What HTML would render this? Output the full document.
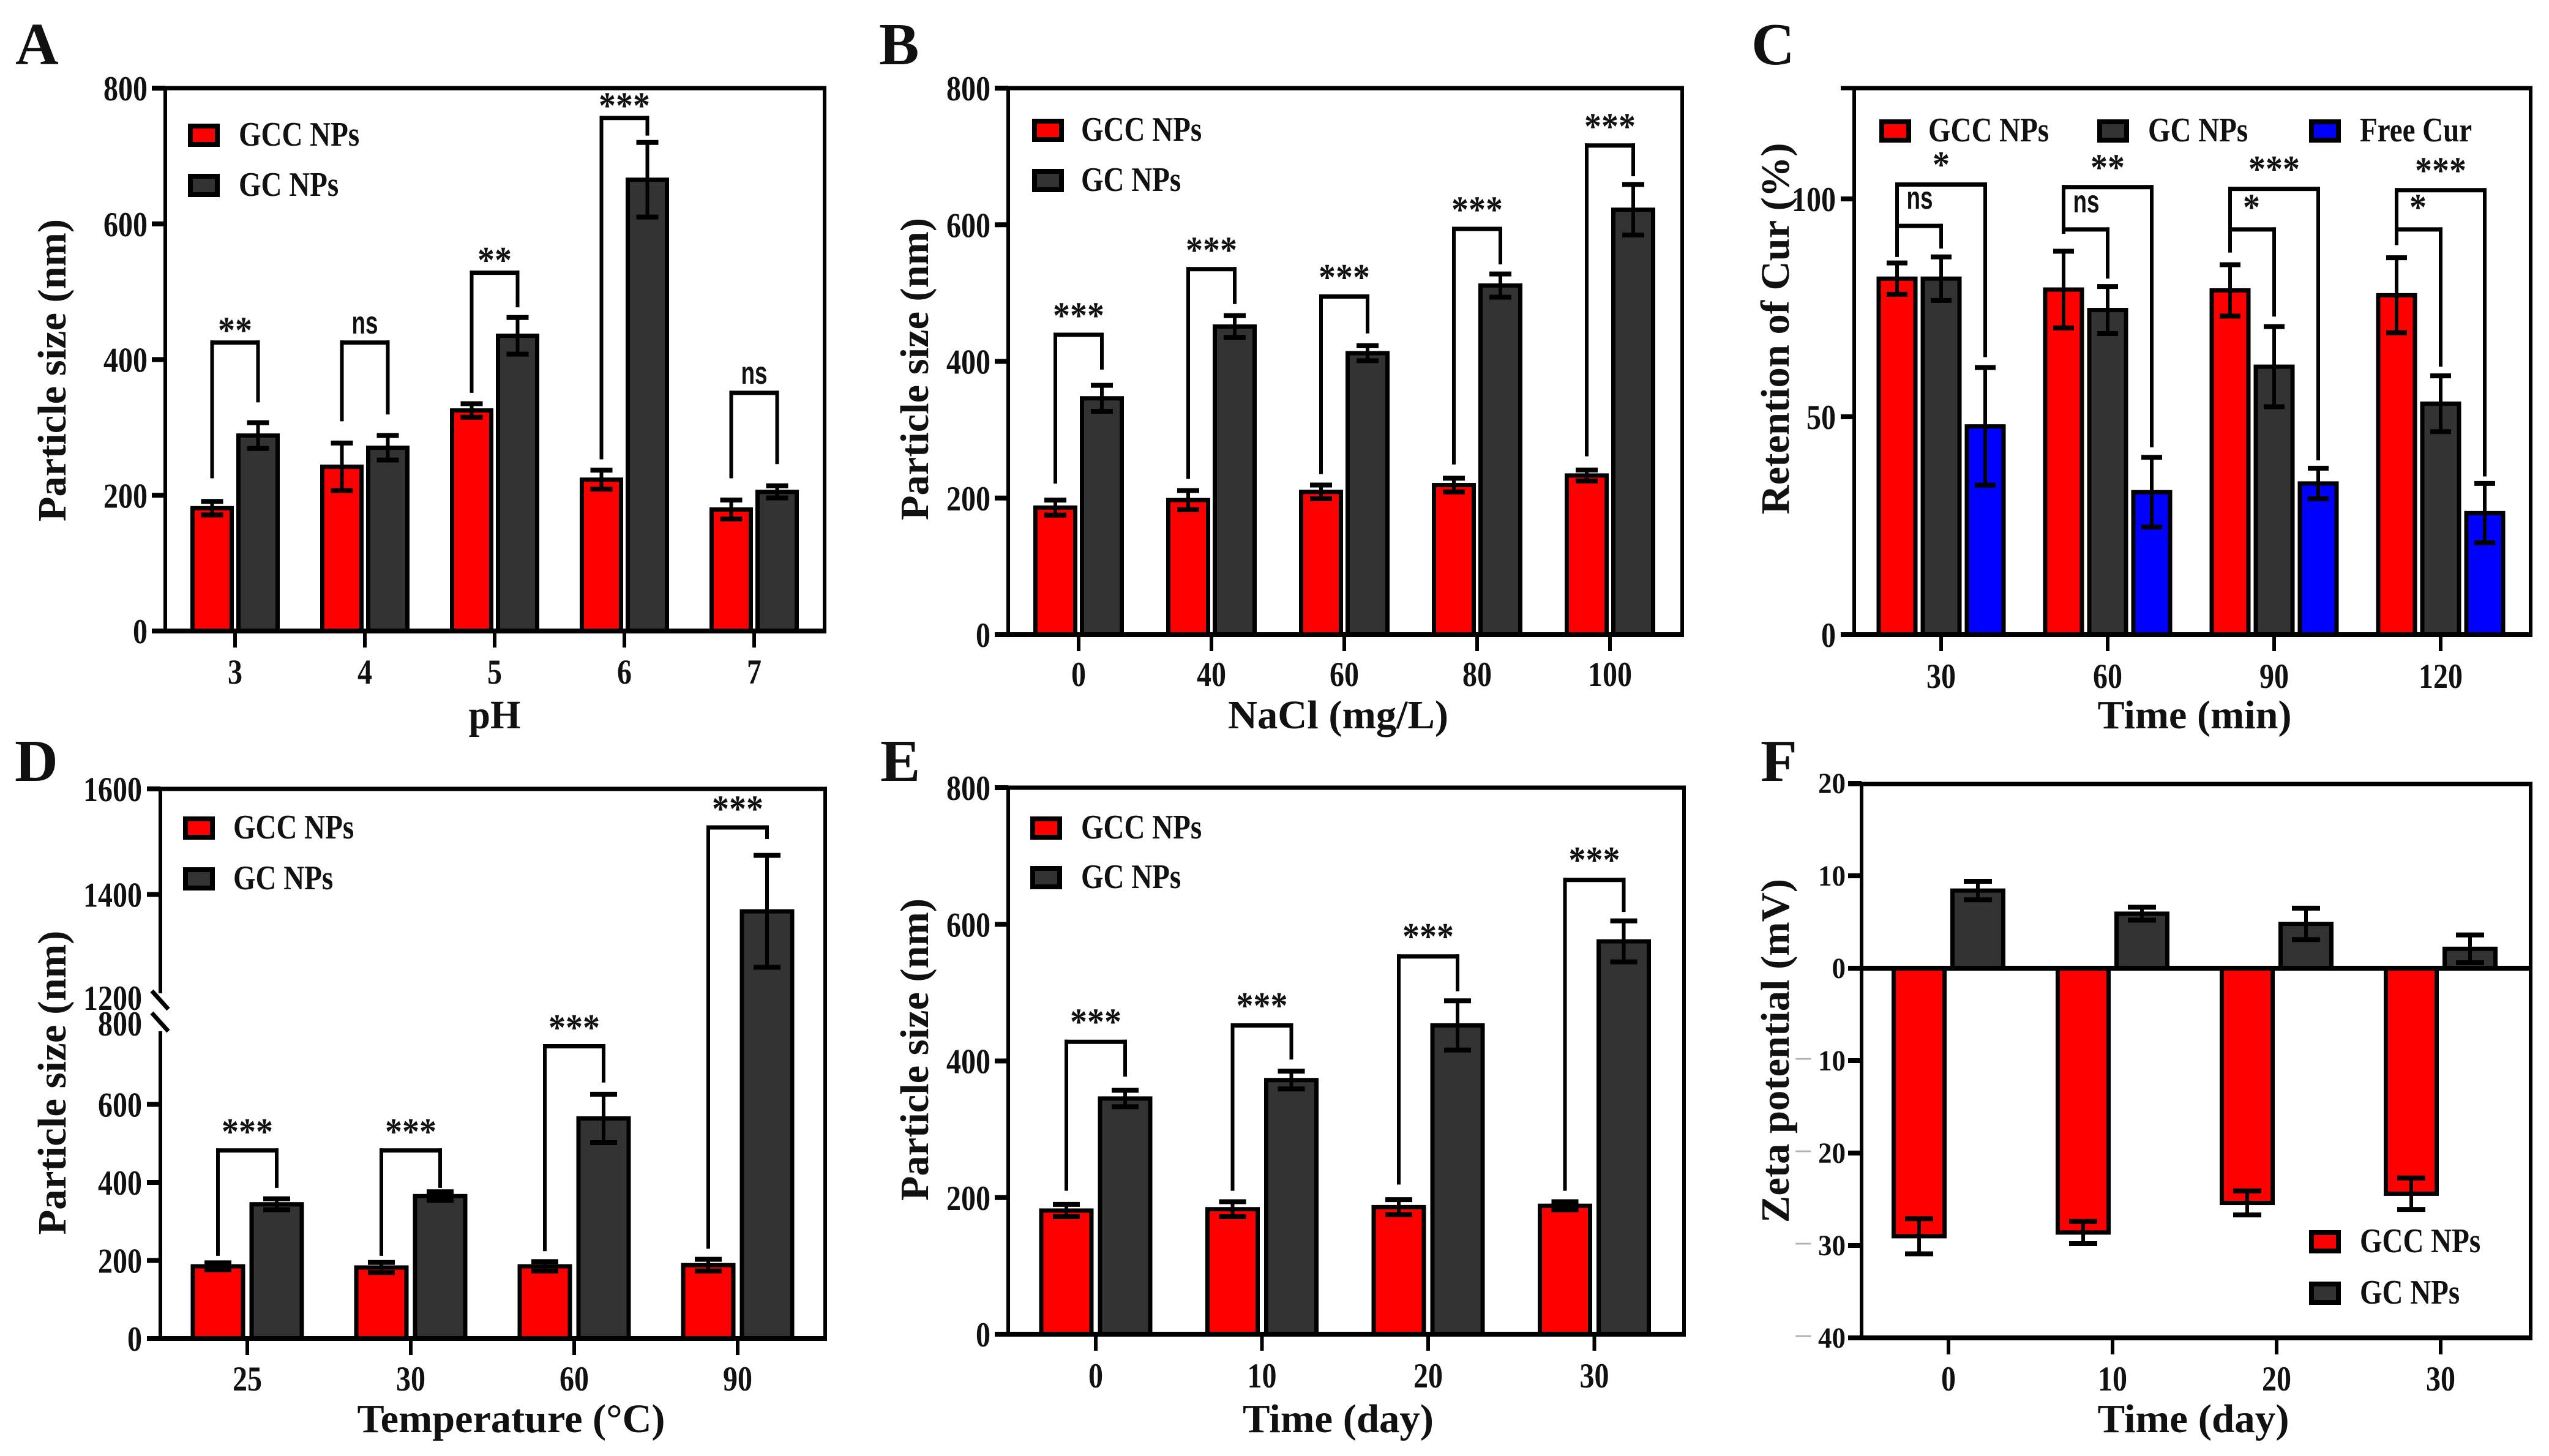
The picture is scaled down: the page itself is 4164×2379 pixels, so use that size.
<!DOCTYPE html>
<html lang="en">
<head>
<meta charset="utf-8">
<title>Nanoparticle stability charts</title>
<style>
html,body{margin:0;padding:0;background:#fff;}
svg{display:block;width:4164px;height:2379px;}
text{font-family:"Liberation Serif",serif;font-weight:bold;fill:#111;}
</style>
</head>
<body>
<svg id="figure" xmlns="http://www.w3.org/2000/svg" width="4164" height="2379" viewBox="0 0 4164 2379"></svg>
<script>
/* ---------- Panel A ---------- */
const categoriesA = ['3','4','5','6','7'];
const yTicksA = [0,200,400,600,800];
const gccA = [181,242,325,223,179];
const gccErrA = [10,35,10,14,14];
const gcA = [288,270,435,665,205];
const gcErrA = [19,18,27,55,9];
const sigTopA = [425,425,528,756,351];
const sigLeftA = [225,309,351,253,225];
const sigRightA = [337,319,477,730,246];
const sigLabelA = ['**','ns','**','***','ns'];

/* ---------- Panel B ---------- */
const categoriesB = ['0','40','60','80','100'];
const yTicksB = [0,200,400,600,800];
const gccB = [186,197,209,219,233];
const gccErrB = [11,14,10,10,8];
const gcB = [346,451,412,511,622];
const gcErrB = [19,16,11,17,37];
const sigTopB = [439,535,495,594,716];
const sigLeftB = [221,228,235,249,261];
const sigRightB = [388,484,441,542,671];
const sigLabelB = ['***','***','***','***','***'];

/* ---------- Panel C ---------- */
const categoriesC = ['30','60','90','120'];
const yTicksC = [0,50,100];
const gccC = [81.7,79.2,79,77.9];
const gccErrC = [3.6,8.8,5.9,8.6];
const gcC = [81.7,74.5,61.5,53];
const gcErrC = [5,5.4,9.2,6.4];
const freeC = [47.8,32.7,34.7,27.9];
const freeErrC = [13.5,8,3.5,6.8];
const sigTopC = [103.3,102.7,102.3,102];
const sigLeftC = [86.7,92,87.7,89.4];
const sigRightC = [63.7,43,40,36.3];
const sigLabelC = ['*','**','***','***'];
const innerTopC = [93.8,93,93,93];
const innerRightC = [88.6,81.7,73,61.5];
const innerLabelC = ['ns','ns','*','*'];

/* ---------- Panel D ---------- */
const categoriesD = ['25','30','60','90'];
const yTicksD = [0,200,400,600,800,1200,1400,1600];
const gccD = [185,182,185,188];
const gccErrD = [9,13,12,15];
const gcD = [344,365,564,1368];
const gcErrD = [14,11,62,106];
const sigTopD = [482,482,749,1527];
const sigLeftD = [212,212,224,230];
const sigRightD = [386,386,656,1505];
const sigLabelD = ['***','***','***','***'];

/* ---------- Panel E ---------- */
const categoriesE = ['0','10','20','30'];
const yTicksE = [0,200,400,600,800];
const gccE = [181,183,186,188];
const gccErrE = [9,11,11,6];
const gcE = [345,372,452,575];
const gcErrE = [12,13,36,30];
const sigTopE = [428,452,553,665];
const sigLeftE = [210,210,219,210];
const sigRightE = [377,402,502,618];
const sigLabelE = ['***','***','***','***'];

/* ---------- Panel F ---------- */
const categoriesF = ['0','10','20','30'];
const yTicksF = [-40,-30,-20,-10,0,10,20];
const gccF = [-29,-28.6,-25.4,-24.4];
const gccErrF = [1.9,1.2,1.3,1.7];
const gcF = [8.4,5.9,4.8,2.1];
const gcErrF = [1,0.7,1.7,1.5];

const RED = '#fe0000', DARK = '#333333', BLUE = '#0000fe';
const svg = document.getElementById('figure');
const NS = 'http://www.w3.org/2000/svg';

function make(parent, tag, attrs, name, interactable) {
  const el = document.createElementNS(NS, tag);
  for (const k in attrs) el.setAttribute(k, attrs[k]);
  
  
  parent.appendChild(el);
  return el;
}
function line(p, x1, y1, x2, y2, w, name) {
  return make(p, 'line', {x1, y1, x2, y2, stroke: '#000', 'stroke-width': w}, name);
}
function text(p, str, x, y, size, anchor, name, extra) {
  const el = make(p, 'text', Object.assign({x, y, 'font-size': size, 'text-anchor': anchor}, extra || {}), name);
  el.textContent = str;
  return el;
}
/* text stretched vertically about its baseline */
function tallText(p, str, x, y, size, anchor, sy, name) {
  const el = make(p, 'text', {x: 0, y: 0, 'font-size': size, 'text-anchor': anchor,
    transform: 'translate(' + x + ' ' + y + ') scale(1 ' + sy + ')'}, name);
  el.textContent = str;
  return el;
}
function nsLabel(p, x, y, name) {
  const el = text(p, 'ns', x, y, 52, 'middle', name, {textLength: 43, lengthAdjust: 'spacingAndGlyphs'});
  el.style.fontFamily = '"Liberation Sans",sans-serif';
  return el;
}
function bracket(p, xl, xr, top, yl, yr, name) {
  const g = make(p, 'g', {}, name);
  line(g, xl, top - 3.5, xl, yl, 6, name + '-left-arm');
  line(g, xr, top - 3.5, xr, yr, 6, name + '-right-arm');
  line(g, xl - 3, top, xr + 3, top, 7, name + '-top');
  return g;
}

function drawPanel(c) {
  const g = make(svg, 'g', {}, 'panel-' + c.letter.toLowerCase());
  const y = c.y;
  const base = y(0);
  text(g, c.letter, c.letterX, c.letterY, 98, 'start', 'panel-letter-' + c.letter.toLowerCase());

  const x = i => c.x0 + i * c.step;
  const m = c.series.length;
  const center = (si, i) => x(i) + (si - (m - 1) / 2) * (m === 3 ? 1 : 2) * c.offset;

  /* bars */
  c.series.forEach((s, si) => {
    s.values.forEach((v, i) => {
      const cx = center(si, i);
      const top = Math.min(y(v), base), h = Math.abs(y(v) - base);
      make(g, 'rect', {x: cx - c.barW / 2, y: top, width: c.barW, height: h, fill: s.color, stroke: '#000', 'stroke-width': 7},
        'bar-' + s.key + '-' + c.categories[i]);
    });
  });
  /* error bars */
  c.series.forEach((s, si) => {
    s.values.forEach((v, i) => {
      const cx = center(si, i);
      const e = s.errs[i];
      const eg = make(g, 'g', {}, 'error-bar-' + s.key + '-' + c.categories[i]);
      line(eg, cx, y(v - e), cx, y(v + e), 6, 'error-stem');
      line(eg, cx - c.cap, y(v + e), cx + c.cap, y(v + e), 8, 'error-cap-upper');
      line(eg, cx - c.cap, y(v - e), cx + c.cap, y(v - e), 8, 'error-cap-lower');
    });
  });

  /* frame */
  const F = c.frame;
  if (c.broken) {
    line(g, F.l, F.t, F.l, c.broken.upperEnd, 6, 'y-axis-upper');
    line(g, F.l, c.broken.lowerStart, F.l, F.b, 6, 'y-axis-lower');
    line(g, F.l - 14, c.broken.upperEnd - 4, F.l + 13, c.broken.upperEnd + 26, 7, 'axis-break-upper');
    line(g, F.l - 14, c.broken.lowerStart - 30, F.l + 13, c.broken.lowerStart, 7, 'axis-break-lower');
  } else {
    line(g, F.l, F.t, F.l, F.b, 6, 'y-axis');
  }
  line(g, F.r, F.t - 3, F.r, F.b + 3, 6, 'frame-right');
  line(g, F.l - 22, F.t, F.r + 3, F.t, 7, 'frame-top');
  line(g, F.l - 22, F.b, F.r + 3, F.b, 8, 'x-axis');
  if (c.zeroLine) line(g, F.l - 22, base, F.r + 3, base, 8, 'zero-line');

  /* y ticks */
  c.yTicks.forEach(t => {
    const ty = y(t);
    if (t !== c.noTick && !(c.broken && t === 1200)) line(g, F.l - 22, ty, F.l, ty, 8, 'y-tick-' + t);
    const lx = F.l - c.labelGap;
    const ly = ty + c.tickDy + (c.broken && t === 1200 ? -4 : 0) + (c.broken && t === 800 ? -5 : 0);
    if (t < 0) {
      const el = tallText(g, '', lx, ly, c.tickSize, 'end', c.tickSy, 'y-tick-label-' + t);
      const a = document.createElementNS(NS, 'tspan');
      a.style.fill = '#b0b0b0';
      a.style.fontWeight = 'normal';
      a.style.fontSize = '54px';
      a.textContent = '\u2212';
      const b = document.createElementNS(NS, 'tspan');
      b.setAttribute('dx', '9');
      b.textContent = String(Math.abs(t));
      el.appendChild(a);
      el.appendChild(b);
    } else {
      tallText(g, String(t), lx, ly, c.tickSize, 'end', c.tickSy, 'y-tick-label-' + t);
    }
  });

  /* x ticks */
  c.categories.forEach((cat, i) => {
    line(g, x(i), F.b, x(i), F.b + 27, 6, 'x-tick-' + cat);
    tallText(g, cat, x(i), c.xTickY, 48, 'middle', 1.2, 'x-tick-label-' + cat);
  });

  /* titles */
  text(g, c.yTitle, c.yTitleX, c.yTitleY, 66, 'middle', 'y-axis-title',
    {transform: 'rotate(-90 ' + c.yTitleX + ' ' + c.yTitleY + ')', textLength: c.yTitleLen, lengthAdjust: 'spacingAndGlyphs'});
  text(g, c.xTitle, c.xTitleX, c.xTitleY, 66, 'middle', 'x-axis-title', {textLength: c.xTitleLen, lengthAdjust: 'spacingAndGlyphs'});

  /* brackets */
  if (c.sig) {
    const s = c.sig;
    s.top.forEach((v, i) => {
      const xl = x(i) - c.offset, xr = x(i) + c.offset;
      const cat = c.categories[i];
      bracket(g, xl, xr, y(v), y(s.left[i]), y(s.right[i]), 'significance-bracket-' + cat);
      if (s.label[i] === 'ns') nsLabel(g, x(i), y(v) - 15, 'significance-label-' + cat);
      else tallText(g, s.label[i], x(i), y(v) - c.starGap + 23, 56, 'middle', 1.1, 'significance-label-' + cat);
      if (s.innerTop) {
        const ix = x(i), it = y(s.innerTop[i]);
        bracket(g, xl, ix, it, y(s.left[i]), y(s.innerRight[i]), 'inner-bracket-' + cat);
        if (s.innerLabel[i] === 'ns') nsLabel(g, ix - 35, it - 28, 'inner-label-' + cat);
        else tallText(g, s.innerLabel[i], ix - 37, it - 16, 56, 'middle', 1.1, 'inner-label-' + cat);
      }
    });
  }

  /* legend */
  c.legend.forEach(l => {
    const lg = make(g, 'g', {}, 'legend-entry-' + l.key, true);
    make(lg, 'rect', {x: l.x + 4, y: l.y + 4, width: 44, height: 30, fill: l.color, stroke: '#000', 'stroke-width': 8}, 'legend-swatch-' + l.key);
    tallText(lg, l.label, l.tx, l.y + 36, 47, 'start', 1.2, 'legend-label-' + l.key);
  });
}

function linear(d0, p0, d1, p1) {
  return v => p0 + (v - d0) * (p1 - p0) / (d1 - d0);
}

function legend2(x, tx, y1, y2) {
  return [
    {key: 'gcc-nps', label: 'GCC NPs', color: RED, x: x, y: y1, tx: tx},
    {key: 'gc-nps', label: 'GC NPs', color: DARK, x: x, y: y2, tx: tx}
  ];
}

drawPanel({
  letter: 'A', letterX: 25, letterY: 105,
  frame: {l: 270, r: 1347, t: 144, b: 1031},
  y: linear(0, 1031, 800, 144), yTicks: yTicksA,
  tickSize: 48, tickSy: 1.2, tickDy: 20, labelGap: 29,
  categories: categoriesA, x0: 384, step: 212, offset: 37.5, barW: 64, cap: 18, starGap: 23,
  series: [
    {key: 'gcc-nps', color: RED, values: gccA, errs: gccErrA},
    {key: 'gc-nps', color: DARK, values: gcA, errs: gcErrA}
  ],
  xTickY: 1117, yTitle: 'Particle size (nm)', yTitleX: 107, yTitleY: 605, yTitleLen: 494,
  xTitle: 'pH', xTitleX: 808, xTitleY: 1190, xTitleLen: 85,
  sig: {top: sigTopA, left: sigLeftA, right: sigRightA, label: sigLabelA},
  legend: legend2(307, 390, 202, 284)
});

drawPanel({
  letter: 'B', letterX: 1436, letterY: 105,
  frame: {l: 1647, r: 2748, t: 144, b: 1037},
  y: linear(0, 1037, 800, 144), yTicks: yTicksB,
  tickSize: 48, tickSy: 1.2, tickDy: 20, labelGap: 29,
  categories: categoriesB, x0: 1762, step: 217, offset: 38, barW: 65, cap: 18, starGap: 34,
  series: [
    {key: 'gcc-nps', color: RED, values: gccB, errs: gccErrB},
    {key: 'gc-nps', color: DARK, values: gcB, errs: gcErrB}
  ],
  xTickY: 1121, yTitle: 'Particle size (nm)', yTitleX: 1516, yTitleY: 603, yTitleLen: 494,
  xTitle: 'NaCl (mg/L)', xTitleX: 2186, xTitleY: 1190, xTitleLen: 360,
  sig: {top: sigTopB, left: sigLeftB, right: sigRightB, label: sigLabelB},
  legend: legend2(1686, 1766, 194, 276)
});

drawPanel({
  letter: 'C', letterX: 2861, letterY: 105,
  frame: {l: 3029, r: 4134, t: 144, b: 1037},
  y: linear(0, 1037, 100, 325), yTicks: yTicksC,
  tickSize: 48, tickSy: 1.2, tickDy: 20, labelGap: 30,
  categories: categoriesC, x0: 3171, step: 272, offset: 72, barW: 60, cap: 17, starGap: 35,
  series: [
    {key: 'gcc-nps', color: RED, values: gccC, errs: gccErrC},
    {key: 'gc-nps', color: DARK, values: gcC, errs: gcErrC},
    {key: 'free-cur', color: BLUE, values: freeC, errs: freeErrC}
  ],
  xTickY: 1124, yTitle: 'Retention of Cur (%)', yTitleX: 2922, yTitleY: 537, yTitleLen: 607,
  xTitle: 'Time (min)', xTitleX: 3585, xTitleY: 1190, xTitleLen: 317,
  sig: {top: sigTopC, left: sigLeftC, right: sigRightC, label: sigLabelC, innerTop: innerTopC, innerRight: innerRightC, innerLabel: innerLabelC},
  legend: [
    {key: 'gcc-nps', label: 'GCC NPs', color: RED, x: 3070, y: 195, tx: 3150},
    {key: 'gc-nps', label: 'GC NPs', color: DARK, x: 3426, y: 195, tx: 3509},
    {key: 'free-cur', label: 'Free Cur', color: BLUE, x: 3772, y: 195, tx: 3855}
  ]
});

function yScaleD(v) {
  if (v <= 800) return 2187 - v * 510 / 800;
  if (v >= 1200) return 1634 - (v - 1200) * 345 / 400;
  return 1677 + (v - 800) * (1634 - 1677) / 400;
}
drawPanel({
  letter: 'D', letterX: 24, letterY: 1276,
  frame: {l: 262, r: 1348, t: 1289, b: 2187},
  y: yScaleD, yTicks: yTicksD, broken: {upperEnd: 1623, lowerStart: 1685}, noTick: 800,
  tickSize: 48, tickSy: 1.2, tickDy: 20, labelGap: 30,
  categories: categoriesD, x0: 404, step: 267, offset: 48, barW: 82, cap: 22, starGap: 33,
  series: [
    {key: 'gcc-nps', color: RED, values: gccD, errs: gccErrD},
    {key: 'gc-nps', color: DARK, values: gcD, errs: gcErrD}
  ],
  xTickY: 2272, yTitle: 'Particle size (nm)', yTitleX: 107, yTitleY: 1769, yTitleLen: 497,
  xTitle: 'Temperature (\u00B0C)', xTitleX: 835, xTitleY: 2340, xTitleLen: 503,
  sig: {top: sigTopD, left: sigLeftD, right: sigRightD, label: sigLabelD},
  legend: legend2(299, 381, 1334, 1417)
});

drawPanel({
  letter: 'E', letterX: 1438, letterY: 1276,
  frame: {l: 1647, r: 2751, t: 1287, b: 2180},
  y: linear(0, 2180, 800, 1287), yTicks: yTicksE,
  tickSize: 48, tickSy: 1.2, tickDy: 20, labelGap: 29,
  categories: categoriesE, x0: 1790, step: 271.5, offset: 48, barW: 82, cap: 22, starGap: 35,
  series: [
    {key: 'gcc-nps', color: RED, values: gccE, errs: gccErrE},
    {key: 'gc-nps', color: DARK, values: gcE, errs: gcErrE}
  ],
  xTickY: 2267, yTitle: 'Particle size (nm)', yTitleX: 1516, yTitleY: 1715, yTitleLen: 494,
  xTitle: 'Time (day)', xTitleX: 2186, xTitleY: 2340, xTitleLen: 312,
  sig: {top: sigTopE, left: sigLeftE, right: sigRightE, label: sigLabelE},
  legend: legend2(1683, 1766, 1334, 1415)
});

drawPanel({
  letter: 'F', letterX: 2876, letterY: 1276,
  frame: {l: 3041, r: 4134, t: 1281, b: 2186},
  y: linear(0, 1582, -40, 2186), yTicks: yTicksF, zeroLine: true,
  tickSize: 45, tickSy: 1.05, tickDy: 16, labelGap: 26,
  categories: categoriesF, x0: 3183, step: 268, offset: 48, barW: 83, cap: 23,
  series: [
    {key: 'gcc-nps', color: RED, values: gccF, errs: gccErrF},
    {key: 'gc-nps', color: DARK, values: gcF, errs: gcErrF}
  ],
  xTickY: 2272, yTitle: 'Zeta potential (mV)', yTitleX: 2922, yTitleY: 1717, yTitleLen: 562,
  xTitle: 'Time (day)', xTitleX: 3583, xTitleY: 2340, xTitleLen: 313,
  legend: legend2(3772, 3855, 2010, 2094)
});
</script>
</body>
</html>
